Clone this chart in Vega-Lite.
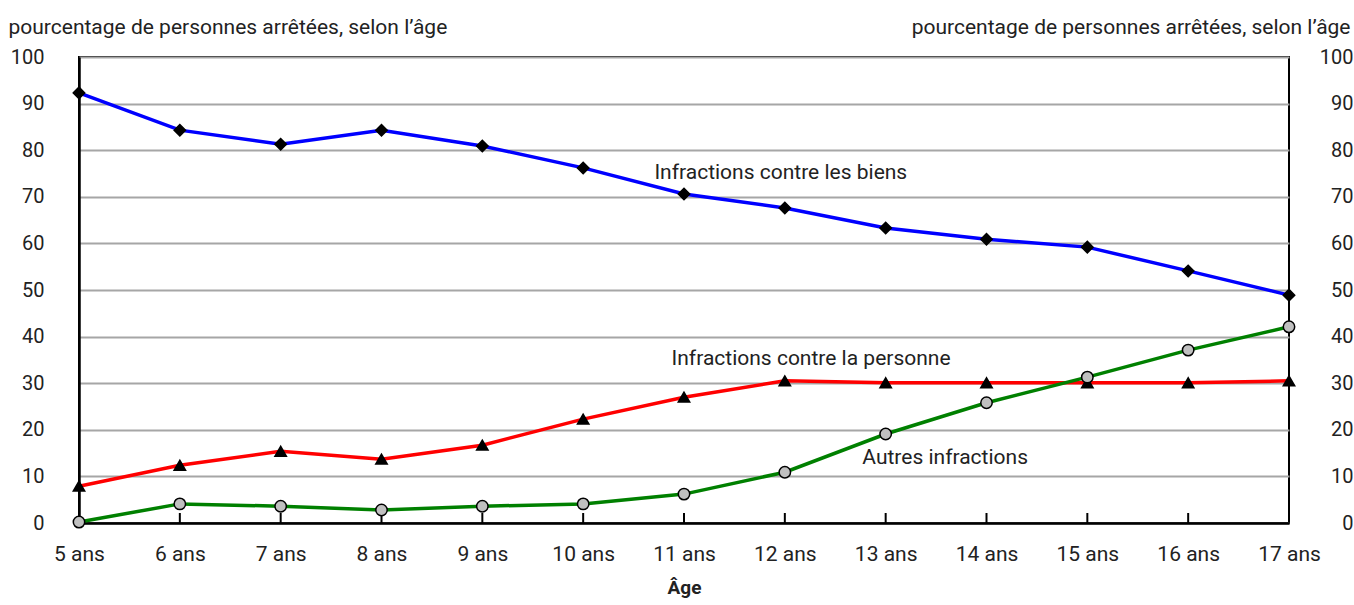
{
  "$schema": "https://vega.github.io/schema/vega-lite/v6.json",
  "width": 1210,
  "height": 466,
  "autosize": {"type": "none"},
  "padding": {"left": 79, "top": 57, "right": 65, "bottom": 82},
  "background": "white",
  "config": {
    "font": "Roboto",
    "view": {"stroke": "#000000", "strokeWidth": 2},
    "axis": {"labelColor": "#222222", "titleColor": "#222222", "labelFontSize": 20, "titleFontSize": 21, "titleFontWeight": "normal", "labelFont": "Roboto", "titleFont": "Roboto"}
  },
  "datasets": {
    "series": [
      {"age": 5, "serie": "biens", "valeur": 92.3},
      {"age": 6, "serie": "biens", "valeur": 84.3},
      {"age": 7, "serie": "biens", "valeur": 81.3},
      {"age": 8, "serie": "biens", "valeur": 84.3},
      {"age": 9, "serie": "biens", "valeur": 80.9},
      {"age": 10, "serie": "biens", "valeur": 76.2},
      {"age": 11, "serie": "biens", "valeur": 70.6},
      {"age": 12, "serie": "biens", "valeur": 67.6},
      {"age": 13, "serie": "biens", "valeur": 63.3},
      {"age": 14, "serie": "biens", "valeur": 60.9},
      {"age": 15, "serie": "biens", "valeur": 59.2},
      {"age": 16, "serie": "biens", "valeur": 54.1},
      {"age": 17, "serie": "biens", "valeur": 48.9},
      {"age": 5, "serie": "personne", "valeur": 7.9},
      {"age": 6, "serie": "personne", "valeur": 12.4},
      {"age": 7, "serie": "personne", "valeur": 15.4},
      {"age": 8, "serie": "personne", "valeur": 13.7},
      {"age": 9, "serie": "personne", "valeur": 16.7},
      {"age": 10, "serie": "personne", "valeur": 22.3},
      {"age": 11, "serie": "personne", "valeur": 27.0},
      {"age": 12, "serie": "personne", "valeur": 30.5},
      {"age": 13, "serie": "personne", "valeur": 30.1},
      {"age": 14, "serie": "personne", "valeur": 30.1},
      {"age": 15, "serie": "personne", "valeur": 30.1},
      {"age": 16, "serie": "personne", "valeur": 30.1},
      {"age": 17, "serie": "personne", "valeur": 30.5},
      {"age": 5, "serie": "autres", "valeur": 0.2},
      {"age": 6, "serie": "autres", "valeur": 4.1},
      {"age": 7, "serie": "autres", "valeur": 3.6},
      {"age": 8, "serie": "autres", "valeur": 2.8},
      {"age": 9, "serie": "autres", "valeur": 3.6},
      {"age": 10, "serie": "autres", "valeur": 4.1},
      {"age": 11, "serie": "autres", "valeur": 6.2},
      {"age": 12, "serie": "autres", "valeur": 10.9},
      {"age": 13, "serie": "autres", "valeur": 19.1},
      {"age": 14, "serie": "autres", "valeur": 25.8},
      {"age": 15, "serie": "autres", "valeur": 31.3},
      {"age": 16, "serie": "autres", "valeur": 37.1},
      {"age": 17, "serie": "autres", "valeur": 42.1}
    ],
    "graduations": [
      {"age": 6}, {"age": 7}, {"age": 8}, {"age": 9}, {"age": 10}, {"age": 11},
      {"age": 12}, {"age": 13}, {"age": 14}, {"age": 15}, {"age": 16}
    ],
    "etiquettes": [
      {"age": 11.96, "valeur": 75.1, "texte": "Infractions contre les biens"},
      {"age": 12.26, "valeur": 35.2, "texte": "Infractions contre la personne"},
      {"age": 13.59, "valeur": 13.9, "texte": "Autres infractions"}
    ]
  },
  "layer": [
    {
      "data": {"name": "series"},
      "mark": {"type": "line", "strokeWidth": 3.5},
      "encoding": {
        "x": {
          "field": "age", "type": "quantitative",
          "scale": {"domain": [5, 17], "nice": false, "zero": false},
          "axis": {
            "orient": "bottom",
            "values": [5, 6, 7, 8, 9, 10, 11, 12, 13, 14, 15, 16, 17],
            "labelExpr": "datum.value + ' ans'",
            "labelFlush": false, "labelFontSize": 21,
            "grid": false,
            "domainColor": "#000000", "domainWidth": 2.5,
            "ticks": false, "tickSize": 0,
            "labelPadding": 37, "labelBaseline": "alphabetic",
            "title": "Âge", "titleFontWeight": "bold", "titleFontSize": 19,
            "titlePadding": 14, "titleColor": "#222222"
          }
        },
        "y": {
          "field": "valeur", "type": "quantitative",
          "scale": {"domain": [0, 100], "nice": false},
          "axis": {
            "orient": "left",
            "values": [0, 10, 20, 30, 40, 50, 60, 70, 80, 90, 100],
            "grid": true, "gridColor": "#a6a6a6", "gridWidth": 2,
            "ticks": false, "tickSize": 0,
            "domainColor": "#000000", "domainWidth": 2.5,
            "labelPadding": 35, "labelBaseline": "middle",
            "title": "pourcentage de personnes arrêtées, selon l’âge",
            "titleAngle": 0, "titleAlign": "left", "titleBaseline": "alphabetic",
            "titleX": -71, "titleY": -24
          }
        },
        "color": {
          "field": "serie", "type": "nominal",
          "scale": {"domain": ["biens", "personne", "autres"], "range": ["#0000ff", "#ff0000", "#008000"]},
          "legend": null
        }
      }
    },
    {
      "data": {"name": "graduations"},
      "mark": {"type": "tick", "orient": "vertical", "color": "#000000", "thickness": 2, "size": 10, "yOffset": -5, "opacity": 1},
      "encoding": {
        "x": {"field": "age", "type": "quantitative", "axis": null},
        "y": {"datum": 0, "type": "quantitative", "axis": null}
      }
    },
    {
      "data": {"name": "series"},
      "mark": {"type": "point", "filled": true, "stroke": "#000000", "strokeWidth": 1.5, "opacity": 1},
      "encoding": {
        "x": {"field": "age", "type": "quantitative", "axis": null},
        "y": {
          "field": "valeur", "type": "quantitative",
          "axis": {
            "orient": "right",
            "values": [0, 10, 20, 30, 40, 50, 60, 70, 80, 90, 100],
            "grid": false, "ticks": false, "tickSize": 0, "domain": false,
            "labelAlign": "right", "labelPadding": 64, "labelBaseline": "middle",
            "title": "pourcentage de personnes arrêtées, selon l’âge",
            "titleAngle": 0, "titleAlign": "right", "titleBaseline": "alphabetic",
            "titleX": 61, "titleY": -24
          }
        },
        "shape": {
          "field": "serie", "type": "nominal",
          "scale": {"domain": ["biens", "personne", "autres"], "range": ["diamond", "triangle-up", "circle"]},
          "legend": null
        },
        "fill": {
          "field": "serie", "type": "nominal",
          "scale": {"domain": ["biens", "personne", "autres"], "range": ["#000000", "#000000", "#c0c0c0"]},
          "legend": null
        },
        "size": {
          "field": "serie", "type": "nominal",
          "scale": {"domain": ["biens", "personne", "autres"], "range": [130, 130, 120]},
          "legend": null
        }
      }
    },
    {
      "data": {"name": "etiquettes"},
      "mark": {"type": "text", "fontSize": 21, "font": "Roboto", "color": "#222222", "align": "center", "baseline": "middle"},
      "encoding": {
        "x": {"field": "age", "type": "quantitative", "axis": null},
        "y": {"field": "valeur", "type": "quantitative", "axis": null},
        "text": {"field": "texte"}
      }
    }
  ],
  "resolve": {"axis": {"x": "independent", "y": "independent"}}
}
